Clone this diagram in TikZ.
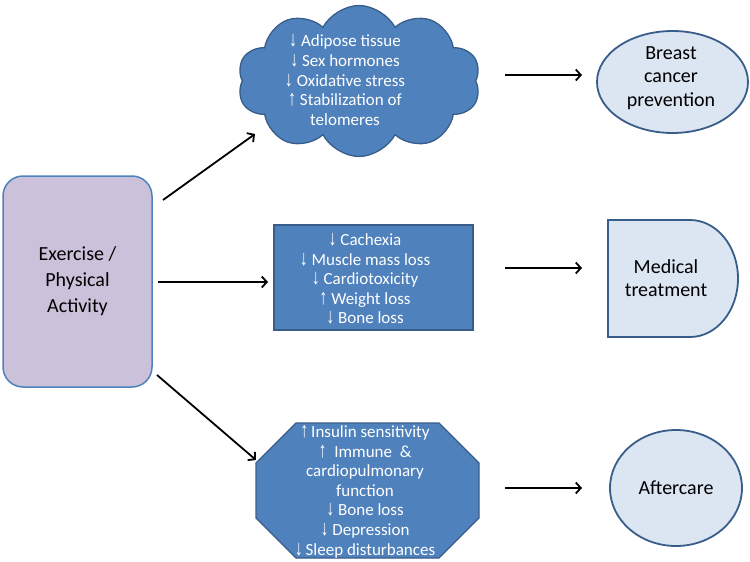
\documentclass[tikz,border=0pt]{standalone}
\usepackage{fontspec}
\setmainfont{Carlito}
\newfontfamily\symf{Liberation Sans}
\usetikzlibrary{shapes.symbols,shapes.misc,shapes.geometric,arrows.meta,calc}
\definecolor{pblue}{HTML}{4F81BD}
\definecolor{dblue}{HTML}{385D8A}
\definecolor{lblue}{HTML}{DCE6F2}
\definecolor{lav}{HTML}{CCC1DA}
\newcommand{\arrdn}{{\symf\bfseries\fontsize{16}{16}\selectfont\scalebox{1}[1.35]{↓}}}
\newcommand{\arrup}{{\symf\bfseries\fontsize{16}{16}\selectfont\scalebox{1}[1.35]{↑}}}
\begin{document}
\begin{tikzpicture}[x=1pt,y=-1pt,
  bluebox/.style={fill=pblue, draw=dblue, line width=1.3pt},
  lightshape/.style={fill=lblue, draw=dblue, line width=1.8pt},
  wtext/.style={text=white, align=center, inner sep=0pt, font=\fontsize{17}{19.6}\selectfont},
  dtext/.style={text=black, align=center, inner sep=0pt, font=\fontsize{20}{23.5}\selectfont},
  arr/.style={line width=1.8pt, -{Straight Barb[length=5pt,width=11pt]}}
]
\useasboundingbox (0,0) rectangle (750,562);

% left box
\node[draw=pblue, fill=lav, line width=1.5pt, rounded corners=20pt,
      minimum width=149pt, minimum height=211pt, inner sep=0pt,
      align=center, font=\fontsize{20}{26}\selectfont] (ex) at (77.5,281.5)
      {Exercise /\\Physical\\Activity};

% cloud
\node[cloud, cloud puffs=10, cloud puff arc=125, cloud ignores aspect,
      minimum width=243pt, minimum height=151pt, inner sep=0pt, bluebox] (cloud) at (359,81) {};
\node[wtext] (cloudtxt) at (345,80)
  {\arrdn\ Adipose tissue\\ \arrdn\ Sex hormones\\ \arrdn\ Oxidative stress\\ \arrup\ Stabilization of\\ telomeres};

% middle rectangle
\node[bluebox, minimum width=199pt, minimum height=105pt, inner sep=0pt] (mid) at (373.5,277.5) {};
\node[wtext] (midtxt) at (365,279)
  {\arrdn\ Cachexia\\ \arrdn\ Muscle mass loss\\ \arrdn\ Cardiotoxicity\\ \arrup\ Weight loss\\ \arrdn\ Bone loss};

% octagon
\draw[bluebox] (296,423) -- (439,423) -- (479,463) -- (479,518) -- (439,558)
  -- (296,558) -- (256,518) -- (256,463) -- cycle;
\node[wtext] (oct) at (365,491.5)
  {\arrup\,Insulin sensitivity\\ \arrup\ \ Immune \ \&\\ cardiopulmonary\\ function\\ \arrdn\ Bone loss\\ \arrdn\ Depression\\ \arrdn\,Sleep disturbances};

% right shapes
\node[ellipse, lightshape, minimum width=151pt, minimum height=102pt, inner sep=0pt] (breast) at (672.5,82) {};
\node[dtext] (breasttxt) at (671,78) {Breast\\cancer\\prevention};

\draw[lightshape] (608,220) -- (690,220) arc[start angle=-90, end angle=90, x radius=48, y radius=58.5] -- (608,337) -- cycle;
\node[dtext] (med) at (666,278) {Medical\\treatment};

\node[ellipse, lightshape, minimum width=132pt, minimum height=116pt, inner sep=0pt, dtext] (after) at (676,488) {Aftercare};

% connectors
\coordinate (s1) at (163,200); \coordinate (e1) at (255,134);
\coordinate (s2) at (158,282); \coordinate (e2) at (268,282);
\coordinate (s3) at (157,375); \coordinate (e3) at (256,460);
\coordinate (s4) at (505,75);  \coordinate (e4) at (582,75);
\coordinate (s5) at (505,268); \coordinate (e5) at (582,268);
\coordinate (s6) at (505,488); \coordinate (e6) at (582,488);
\draw[arr] (s1) -- (e1);
\draw[arr] (s2) -- (e2);
\draw[arr] (s3) -- (e3);
\draw[arr] (s4) -- (e4);
\draw[arr] (s5) -- (e5);
\draw[arr] (s6) -- (e6);
\end{tikzpicture}
\end{document}
